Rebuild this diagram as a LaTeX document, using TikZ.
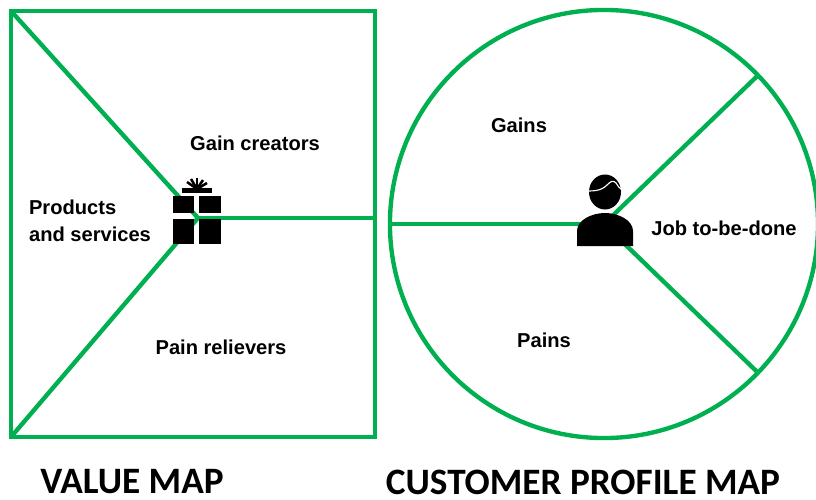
\documentclass[tikz,border=0pt]{standalone}
\usepackage{fontspec}
\setmainfont{Liberation Sans}
\newfontfamily\titlefont{Carlito}
\usetikzlibrary{positioning}
\definecolor{mapgreen}{RGB}{0,176,80}
\tikzset{
    mapbox/.style = {rectangle, draw=mapgreen, line width=3.1pt, inner sep=0pt, outer sep=0pt, minimum width=9.1cm, minimum height=10.65cm},
    mapcircle/.style = {circle, draw=mapgreen, line width=3.1pt, inner sep=0pt, outer sep=0pt, minimum size=10.7cm},
    spoke/.style = {draw=mapgreen, line width=3.1pt},
    lbl/.style = {font=\fontsize{14.3}{19.2}\selectfont\bfseries, align=left, inner sep=0pt},
    maptitle/.style = {font=\titlefont\fontsize{26.5}{30}\selectfont\bfseries, inner sep=0pt},
    iconline/.style = {draw=black, line width=1.8pt},
}

\begin{document}
\begin{tikzpicture}[x=0.025cm,y=-0.025cm]
\useasboundingbox (0,0) rectangle (816,500);
\node[mapbox] at (193,224) (valuebox) {};
\node[mapcircle] at (604,224) (profile) {};
\coordinate (gifthub) at (198,218);
\coordinate (personhub) at (604,224);
%
\draw[spoke] (gifthub) -- (valuebox.north west);
\draw[spoke] (gifthub) -- (valuebox.south west);
\draw[spoke] (gifthub) -- (gifthub -| valuebox.east);
\draw[spoke] (personhub) -- (profile.west);
\draw[spoke] (personhub) -- (profile.44);
\draw[spoke] (personhub) -- (profile.-44);
% gift
\fill (172.5,196) rectangle (194,213);
\fill (199,196) rectangle (221,213);
\fill (172.5,219) rectangle (194,244);
\fill (199,219) rectangle (221,244);
\fill (182,188) rectangle (212,193);
\foreach \tipx/\tipy in {187/182,191/179,197/178,203/180,207/183}
    \draw[iconline] (197,189) -- (\tipx,\tipy);
% person
\fill (605,192) ellipse [x radius=16, y radius=17.5];
\draw[white, line width=0.8pt] (589,191) .. controls (600,191) and (604,188) .. (607,185) .. controls (611,181) and (613,180) .. (616,183) .. controls (618,186) and (619,188) .. (622,190);
\fill (577,246) -- (577,231) .. controls (577,220) and (592,213) .. (605,213) .. controls (618,213) and (633,220) .. (633,231) -- (633,246) -- cycle;
%
\node[lbl] at (255,143) (gaincreators) {Gain creators};
\node[lbl] at (90,221) (products) {Products\\and services};
\node[lbl] at (221,347) (painrelievers) {Pain relievers};
\node[lbl] at (519,125) (gains) {Gains};
\node[lbl] at (724,228) (job) {Job to-be-done};
\node[lbl] at (544,340) (pains) {Pains};
\node[maptitle] at (132,482) (valuetitle) {VALUE MAP};
\node[maptitle] at (583,482) (profiletitle) {CUSTOMER PROFILE MAP};
\end{tikzpicture}
\end{document}
